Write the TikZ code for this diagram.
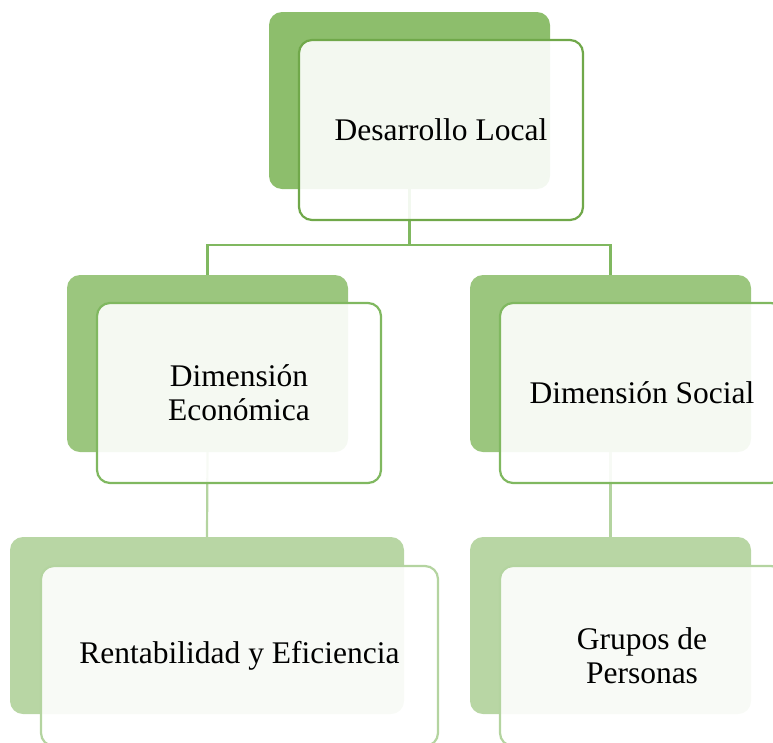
\documentclass[tikz,border=0pt]{standalone}
\usepackage{fontspec}
\setmainfont{Liberation Serif}
\usetikzlibrary{positioning}

\definecolor{backA}{RGB}{141,190,108}
\definecolor{backB}{RGB}{155,198,126}
\definecolor{backC}{RGB}{184,214,164}
\definecolor{lineA}{RGB}{112,168,74}
\definecolor{lineB}{RGB}{128,184,96}
\definecolor{lineC}{RGB}{180,212,160}

\begin{document}
\begin{tikzpicture}[x=1pt, y=-1pt,
  backbox/.style={rectangle, rounded corners=13pt, minimum width=281pt, minimum height=177pt, inner sep=0pt},
  frontbox/.style={rectangle, rounded corners=13pt, minimum width=284pt, minimum height=180pt, inner sep=0pt,
    fill=white, fill opacity=0.9, text opacity=1, line width=2.2pt, align=center,
    font=\fontsize{31.5}{34}\selectfont},
  link/.style={line width=2.2pt}]

\useasboundingbox (0,0) rectangle (773,742);
\clip (0,0) rectangle (773,742);

% back boxes
\node[backbox, fill=backA] (dlback) at (409.5,100.5) {};
\node[backbox, fill=backB] (ecoback) at (207.5,363.5) {};
\node[backbox, fill=backB] (socback) at (610.5,363.5) {};
\node[backbox, fill=backC, minimum width=394pt] (renback) at (207,625.5) {};
\node[backbox, fill=backC] (gruback) at (610.5,625.5) {};

% connectors
\coordinate (bus) at (409.5,245);
\draw[link, lineB] (dlback.south) -- (bus) -| (ecoback.north);
\draw[link, lineB] (bus) -| (socback.north);
\draw[link, lineC] (ecoback.south) -- (renback.north);
\draw[link, lineC] (socback.south) -- (gruback.north);

% front boxes
\node[frontbox, draw=lineA] (dl) at (441,130) {Desarrollo Local};
\node[frontbox, draw=lineB] (eco) at (239,393) {Dimensión\\Económica};
\node[frontbox, draw=lineB] (soc) at (642,393) {Dimensión Social};
\node[frontbox, draw=lineC, minimum width=397pt] (ren) at (239.5,656) {Rentabilidad y Eficiencia};
\node[frontbox, draw=lineC] (gru) at (642,656) {Grupos de\\Personas};

\end{tikzpicture}
\end{document}
